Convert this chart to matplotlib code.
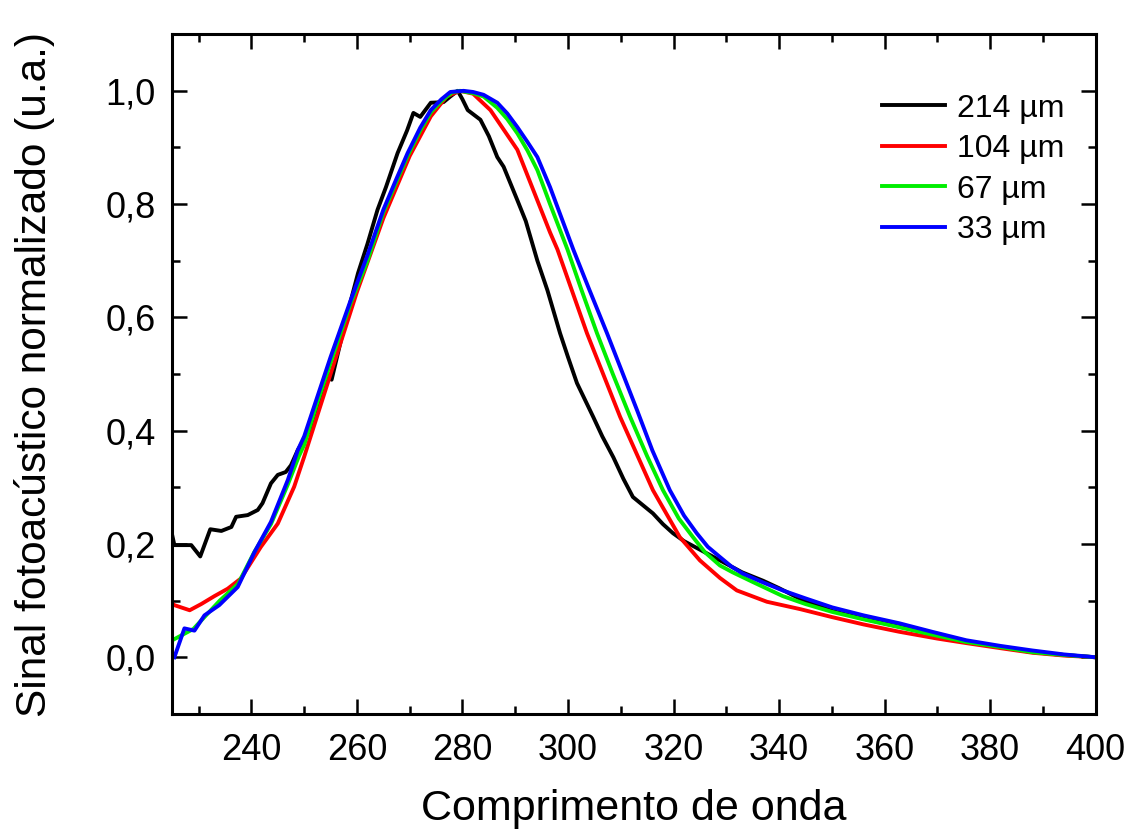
import matplotlib
matplotlib.use("Agg")
from matplotlib import pyplot as plt
from matplotlib.ticker import MultipleLocator, FuncFormatter

plt.rcParams['font.family'] = ['Liberation Sans', 'DejaVu Sans']

# 214 um
x_214 = [225, 225.4, 228.6, 230.3, 232.2, 234.3, 236.2, 237.1, 239.3, 241.2, 242.1, 243.7, 245, 246.5,
         247.5, 248.8, 251, 253, 254.5, 255.2, 256.4, 258, 260.2, 262, 263.9, 265.5, 267.7, 269.5,
         270.7, 272, 274, 276.4, 277.7, 279.1, 280, 281, 283.4, 285, 286.6, 287.8, 290.4, 292, 294.2,
         296.1, 298.5, 300, 301.7, 304.8, 306.5, 308.6, 310.5, 312.3, 314, 316.1, 318, 319.9, 322,
         325, 328.8, 333, 337, 340, 344, 350, 356, 362.8, 370, 375.5, 382, 388, 394, 400]
y_214 = [0.215, 0.198, 0.198, 0.178, 0.226, 0.223, 0.23, 0.248, 0.251, 0.26, 0.272, 0.307, 0.322, 0.327,
         0.339, 0.366, 0.40, 0.45, 0.50, 0.49, 0.537, 0.60, 0.678, 0.73, 0.79, 0.83, 0.89, 0.93,
         0.961, 0.954, 0.979, 0.98, 0.99, 1.0, 0.985, 0.966, 0.949, 0.92, 0.883, 0.866, 0.807, 0.77, 0.70,
         0.648, 0.572, 0.53, 0.484, 0.424, 0.39, 0.353, 0.315, 0.283, 0.27, 0.254, 0.235, 0.219, 0.205,
         0.19, 0.171, 0.15, 0.135, 0.122, 0.103, 0.082, 0.068, 0.054, 0.04, 0.028, 0.018, 0.009, 0.004, 0.0]

# 104 um
x_104 = [225, 225.4, 228.3, 230.5, 233, 235.5, 238, 241.8, 245, 248.1, 250, 255, 260, 265, 270, 274,
         277, 279.5, 282, 285.3, 290.4, 296.6, 298, 303.6, 309.9, 316.1, 321.2, 325, 328.8, 332,
         337.7, 344, 350, 356, 362.8, 370, 375.5, 382, 388, 394, 400]
y_104 = [0.095, 0.092, 0.083, 0.094, 0.108, 0.121, 0.139, 0.195, 0.236, 0.301, 0.354, 0.50, 0.645,
         0.775, 0.885, 0.955, 0.99, 1.0, 0.995, 0.966, 0.896, 0.75, 0.72, 0.572, 0.424, 0.295, 0.212,
         0.171, 0.14, 0.118, 0.098, 0.085, 0.071, 0.058, 0.045, 0.033, 0.025, 0.016, 0.008, 0.003, 0.0]

# 67 um
x_67 = [225, 227, 229, 231, 234, 237.5, 240.5, 243.7, 246.9, 249, 250, 252.5, 255, 258.8, 262, 265,
        267.5, 269.6, 272, 274, 276, 278, 279.5, 282, 284, 286.6, 288.5, 290.4, 292.3, 294.2, 296.6,
        299.9, 302.5, 305.5, 308.5, 311.8, 315, 318, 321, 323.7, 326, 328.8, 331.2, 335, 340.7, 345,
        350.1, 356, 362.8, 369, 375.5, 382, 388, 394, 400]
y_67 = [0.03, 0.04, 0.05, 0.07, 0.10, 0.13, 0.185, 0.235, 0.305, 0.355, 0.375, 0.45, 0.52, 0.625,
        0.70, 0.785, 0.84, 0.885, 0.93, 0.962, 0.982, 0.997, 1.0, 0.996, 0.99, 0.97, 0.95, 0.925,
        0.895, 0.86, 0.80, 0.72, 0.65, 0.572, 0.50, 0.424, 0.355, 0.295, 0.245, 0.212, 0.185, 0.162,
        0.15, 0.133, 0.108, 0.094, 0.08, 0.067, 0.053, 0.04, 0.027, 0.018, 0.009, 0.004, 0.0]

# 33 um
x_33 = [225.4, 227.3, 229.2, 231.1, 233.9, 237.4, 240.6, 243.7, 246.9, 248.8, 250, 252.5, 255, 258.8,
        262, 265, 267.5, 269.6, 272, 274, 276, 277.7, 280.2, 282, 284, 286.6, 288.5, 290.4, 292.3,
        294.2, 296.6, 298.8, 301, 304, 307.4, 310, 313.1, 316, 319.3, 322, 324.4, 326.5, 328.8, 331,
        333.1, 337, 340.7, 345, 350.1, 356, 362.8, 369, 375.5, 382, 388, 394, 400]
y_33 = [0.0, 0.051, 0.047, 0.074, 0.092, 0.124, 0.186, 0.239, 0.313, 0.366, 0.39, 0.46, 0.53, 0.63,
        0.71, 0.79, 0.845, 0.89, 0.935, 0.966, 0.985, 0.998, 1.0, 0.998, 0.993, 0.979, 0.96, 0.936, 0.91,
        0.883, 0.83, 0.775, 0.72, 0.65, 0.572, 0.51, 0.436, 0.365, 0.295, 0.25, 0.219, 0.195, 0.177, 0.16,
        0.148, 0.132, 0.118, 0.104, 0.088, 0.074, 0.06, 0.045, 0.03, 0.02, 0.012, 0.005, 0.0]

series = [
    (x_214, y_214, 'black', '214 \u00b5m'),
    (x_104, y_104, '#ff0000', '104 \u00b5m'),
    (x_67, y_67, '#00ee00', '67 \u00b5m'),
    (x_33, y_33, '#0000ff', '33 \u00b5m'),
]

fig = plt.figure(figsize=(11.26, 8.34), dpi=100)
ax = fig.add_axes([0.153, 0.144, 0.820, 0.815])

for xs, ys, col, lab in series:
    ax.plot(xs, ys, color=col, linewidth=2.8, label=lab, solid_joinstyle='round')

ax.set_xlim(225, 400)
ax.set_ylim(-0.1, 1.1)
ax.xaxis.set_major_locator(MultipleLocator(20))
ax.xaxis.set_minor_locator(MultipleLocator(10))
ax.yaxis.set_major_locator(MultipleLocator(0.2))
ax.yaxis.set_minor_locator(MultipleLocator(0.1))
ax.yaxis.set_major_formatter(FuncFormatter(lambda v, p: ('%.1f' % v).replace('.', ',')))

ax.tick_params(which='both', direction='in', top=True, right=True, width=1.8, labelsize=26)
ax.tick_params(which='major', length=11, pad=12)
ax.tick_params(axis='x', which='major', pad=14)
ax.tick_params(which='minor', length=6)
for s in ax.spines.values():
    s.set_linewidth(2.2)

ax.set_xlabel('Comprimento de onda', fontsize=31, labelpad=15)
ax.set_ylabel('Sinal fotoac\u00fastico normalizado (u.a.)', fontsize=30.5, labelpad=36)

ax.legend(loc='upper right', frameon=False, fontsize=23, handlelength=2.0,
          handletextpad=0.35, labelspacing=0.33, bbox_to_anchor=(0.997, 0.955))

fig.savefig('out.png', dpi=100)
